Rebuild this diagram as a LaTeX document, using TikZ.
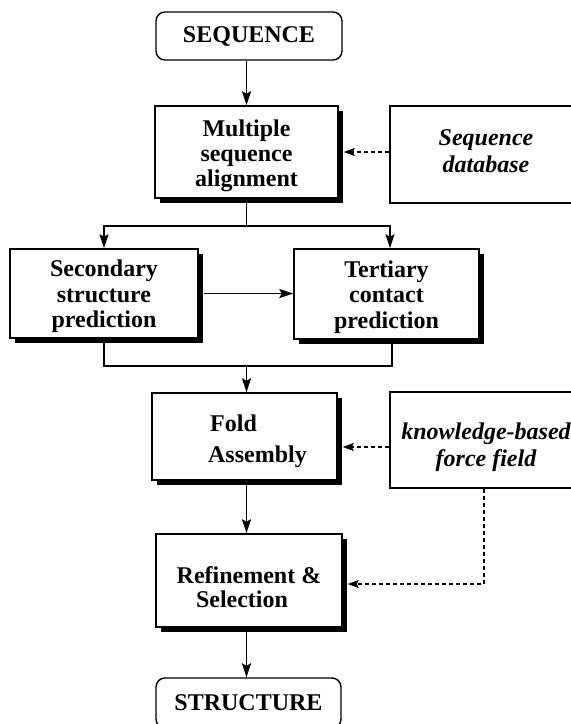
\documentclass[tikz,border=0pt]{standalone}
\usepackage{fontspec}
\setmainfont{Liberation Serif}
\usetikzlibrary{arrows.meta,shadows}

\begin{document}
\begin{tikzpicture}[x=1pt,y=-1pt,
  every node/.style={font=\fontsize{24}{25}\selectfont\bfseries, align=center, inner sep=0pt},
  boxsh/.style={draw, line width=1.5pt, fill=white,
    drop shadow={opacity=1, shadow xshift=5pt, shadow yshift=-5pt, fill=black}},
  plainbox/.style={draw, line width=1.5pt, fill=white,
    font=\fontsize{24}{27}\selectfont\bfseries\itshape},
  endbox/.style={draw, line width=1.4pt, rounded corners=9pt, fill=white},
  conn/.style={line width=1.7pt},
  arr/.style={conn, -{Stealth[length=14pt,width=9pt,inset=2.5pt]}},
  darr/.style={line width=1.7pt, dash pattern=on 4pt off 3pt,
    -{Stealth[length=11pt,width=8pt,inset=2pt]}}
]
\useasboundingbox (0,0) rectangle (571,724);

% nodes
\node[endbox, minimum width=186pt, minimum height=48pt] (seq) at (249,36) {SEQUENCE};
\node[boxsh, minimum width=183pt, minimum height=92pt] (msa) at (246.5,152)
  {\rule{0pt}{25pt}Multiple\\sequence\\alignment};
\node[plainbox, minimum width=192pt, minimum height=97pt] (db) at (486,154.5)
  {Sequence\\database\rule[-6pt]{0pt}{6pt}};
\node[boxsh, minimum width=188pt, minimum height=89pt,
  font=\fontsize{24}{25.5}\selectfont\bfseries] (ss) at (104,293.5)
  {\rule{0pt}{23pt}Secondary\\structure\\prediction};
\node[boxsh, minimum width=185pt, minimum height=90pt,
  font=\fontsize{24}{25.5}\selectfont\bfseries] (tc) at (386.5,294)
  {\rule{0pt}{23pt}Tertiary\\contact\hspace*{14pt}\\prediction};
\node[boxsh, minimum width=185pt, minimum height=87pt, align=left,
  font=\fontsize{24}{31}\selectfont\bfseries] (fa) at (244.5,436.5)
  {\rule{0pt}{27pt}\hspace*{28pt}Fold\\\hspace*{26pt}Assembly};
\node[plainbox, minimum width=192pt, minimum height=96pt] (kb) at (486,440)
  {\rule{0pt}{32pt}knowledge-based\\force field};
\node[boxsh, minimum width=186pt, minimum height=93pt,
  font=\fontsize{24}{24}\selectfont\bfseries] (rs) at (249,580.5)
  {\rule{0pt}{31pt}Refinement \&\\Selection\hspace*{14pt}};
\node[endbox, minimum width=185pt, minimum height=50pt] (st) at (248.5,703) {STRUCTURE};

% helper coordinates
\coordinate (split) at (246.5,226);
\coordinate (merge) at (246.5,366);
\coordinate (tcin) at ([xshift=3.5pt]tc.north);
\coordinate (tcout) at ([xshift=5.5pt]tc.south);
\coordinate (faeast) at ([xshift=5pt,yshift=-10.5pt]fa.east);
\coordinate (rseast) at ([xshift=5pt,yshift=-3.5pt]rs.east);
\coordinate (kbout) at ([xshift=-2pt]kb.south);

% solid connectors
\draw[arr] (seq.south -| msa.north) -- (msa.north);
\draw[conn] (msa.south) -- (split);
\draw[arr] (split) -| (ss.north);
\draw[arr] (split) -| (tcin);
\draw[arr] ([xshift=5pt]ss.east) -- (tc.west |- ss.east);
\draw[conn] (ss.south) |- (tcout |- merge) -- (tcout);
\draw[arr] (merge) -- (merge |- fa.north);
\draw[arr] (fa.south -| msa.south) -- (rs.north -| msa.south);
\draw[arr] (rs.south -| msa.south) -- (st.north -| msa.south);

% dashed connectors
\draw[darr] (db.west |- msa.east) -- ([xshift=5pt]msa.east);
\draw[darr] (kb.west |- faeast) -- (faeast);
\draw[darr] (kbout) |- (rseast);
\end{tikzpicture}
\end{document}
